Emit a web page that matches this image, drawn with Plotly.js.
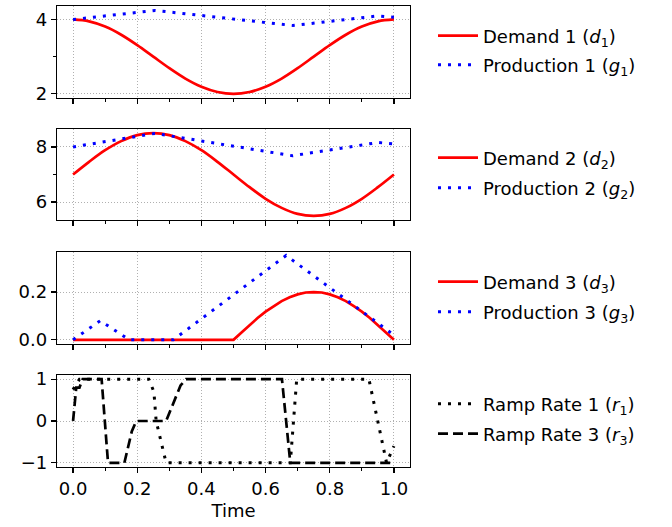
<!DOCTYPE html>
<html>
<head>
<meta charset="utf-8">
<script src="https://cdn.plot.ly/plotly-3.0.1.min.js"></script>
<style>html,body{margin:0;padding:0;background:#fff;}#chart{width:672px;height:527px;}</style>
</head>
<body>
<div id="chart"></div>
<script>
// ---- data ----
const tDemand = [0,0.05,0.1,0.15,0.2,0.25,0.3,0.35,0.4,0.45,0.5,0.55,0.6,0.65,0.7,0.75,0.8,0.85,0.9,0.95,1.0];
const demand1 = [4.0,3.95,3.81,3.59,3.31,3.0,2.69,2.41,2.19,2.05,2.0,2.05,2.19,2.41,2.69,3.0,3.31,3.59,3.81,3.95,4.0];
const demand2 = [7.0,7.46,7.88,8.21,8.43,8.5,8.43,8.21,7.88,7.46,7.0,6.54,6.12,5.79,5.57,5.5,5.57,5.79,6.12,6.54,7.0];

const tDemand3 = [0,0.5,0.525,0.55,0.575,0.6,0.625,0.65,0.675,0.7,0.725,0.75,0.775,0.8,0.825,0.85,0.875,0.9,0.925,0.95,0.975,1.0];
const demand3 = [0,0,0.031,0.062,0.091,0.118,0.141,0.162,0.178,0.190,0.198,0.2,0.198,0.190,0.178,0.162,0.141,0.118,0.091,0.062,0.031,0];

const tProd1 = [0,0.255,0.685,0.95,1.0];
const prod1 = [4.0,4.243,3.838,4.095,4.06];
const tProd2 = [0,0.255,0.684,0.95,1.0];
const prod2 = [8.0,8.49,7.68,8.16,8.11];
const tProd3 = [0,0.085,0.175,0.3125,0.664,1.0];
const prod3 = [0,0.08,0,0,0.353,0.02];

const tRamp1 = [0,0.02,0.236,0.252,0.259,0.29,0.677,0.697,0.922,0.977,1.0];
const ramp1 = [0.75,1,1,0.7,0,-1,-1,1,1,-1,-0.6];
const tRamp3 = [0,0.01,0.02,0.03,0.089,0.109,0.16,0.183,0.197,0.29,0.335,0.352,0.651,0.677,1.0];
const ramp3 = [0,0.8,0.8,1,1,-1,-1,-0.25,0,0,0.85,1,1,-1,-1];

const xTicks = [0,0.2,0.4,0.6,0.8,1.0];
const names = [
  'Demand 1 (<i>d</i><sub>1</sub>)','Production 1 (<i>g</i><sub>1</sub>)',
  'Demand 2 (<i>d</i><sub>2</sub>)','Production 2 (<i>g</i><sub>2</sub>)',
  'Demand 3 (<i>d</i><sub>3</sub>)','Production 3 (<i>g</i><sub>3</sub>)',
  'Ramp Rate 1 (<i>r</i><sub>1</sub>)','Ramp Rate 3 (<i>r</i><sub>3</sub>)'
];

// ---- styles ----
const redLine = {color:'#ff0000', width:2.7};
const blueDot = {color:'#0000ff', width:3, dash:'3px,7px'};
const blackDot = {color:'#000000', width:3, dash:'3px,7px'};
const blackDash = {color:'#000000', width:2.7, dash:'10px,5px'};

const traces = [
  {x:tDemand, y:demand1, xaxis:'x', yaxis:'y', line:Object.assign({shape:'spline'},redLine), legend:'legend'},
  {x:tProd1, y:prod1, xaxis:'x', yaxis:'y', line:blueDot, legend:'legend2'},
  {x:tDemand, y:demand2, xaxis:'x2', yaxis:'y2', line:Object.assign({shape:'spline'},redLine), legend:'legend3'},
  {x:tProd2, y:prod2, xaxis:'x2', yaxis:'y2', line:blueDot, legend:'legend4'},
  {x:tDemand3, y:demand3, xaxis:'x3', yaxis:'y3', line:redLine, legend:'legend5'},
  {x:tProd3, y:prod3, xaxis:'x3', yaxis:'y3', line:blueDot, legend:'legend6'},
  {x:tRamp1, y:ramp1, xaxis:'x4', yaxis:'y4', line:blackDot, legend:'legend7'},
  {x:tRamp3, y:ramp3, xaxis:'x4', yaxis:'y4', line:blackDash, legend:'legend8'}
].map((t,i)=>Object.assign({type:'scatter', mode:'lines', name:names[i], hoverinfo:'skip'}, t));

const H = 461, bottomPx = 467;
function py(p){ return (bottomPx - p)/H; }

const gridStyle = {showgrid:true, gridcolor:'#b0b0b0', griddash:'1px,2px', gridwidth:1};
const frame = {showline:true, linecolor:'#000', linewidth:1.2, mirror:true, zeroline:false,
  ticks:'outside', ticklen:5, tickwidth:1.2, tickcolor:'#000'};

function xax(anchor, labels){
  return Object.assign({}, frame, gridStyle, {
    anchor:anchor, domain:[0,1], range:[-0.05,1.05], tickmode:'array', tickvals:xTicks,
    tickformat:'.1f', showticklabels:labels,
    minor:{ticks:'outside', ticklen:3, tickwidth:1, tickcolor:'#000', dtick:0.1, tick0:0, showgrid:false}
  });
}
function yax(anchor, dom, range, dtick, fmt, minor){
  const a = Object.assign({}, frame, gridStyle, {
    anchor:anchor, domain:dom, range:range, dtick:dtick, tick0:0, tickformat:fmt
  });
  if (minor) a.minor = {ticks:'outside', ticklen:3, tickwidth:1, tickcolor:'#000', dtick:minor, tick0:0, showgrid:false};
  return a;
}

const legX = (433-57)/353;
const legendYs = [36,65,158,188,282,312,404,434];
const layout = {
  width:672, height:527,
  margin:{l:57, r:262, t:6, b:60},
  paper_bgcolor:'#fff', plot_bgcolor:'#fff',
  font:{family:'DejaVu Sans', size:18, color:'#000'},
  xaxis: xax('y', false),
  xaxis2: xax('y2', false),
  xaxis3: xax('y3', false),
  xaxis4: Object.assign(xax('y4', true), {title:{text:'Time', standoff:6, font:{size:18}}}),
  yaxis: yax('x', [py(98),1], [1.8875,4.3625], 2, '', 1),
  yaxis2: yax('x2', [py(220),py(129)], [5.35,8.65], 2, '', 1),
  yaxis3: yax('x3', [py(344),py(252)], [-0.0175,0.3675], 0.2, '.1f', null),
  yaxis4: yax('x4', [0,py(375)], [-1.1,1.1], 1, '', null),
  showlegend:true
};
legendYs.forEach((p,i)=>{
  const key = i===0 ? 'legend' : 'legend'+(i+1);
  layout[key] = {x:legX, y:py(p), xanchor:'left', yanchor:'middle', bgcolor:'rgba(0,0,0,0)',
    borderwidth:0, itemwidth:40, font:{family:'DejaVu Sans', size:18, color:'#000'},
    itemclick:false, itemdoubleclick:false};
});

Plotly.newPlot('chart', traces, layout, {displayModeBar:false, staticPlot:true});
</script>
</body>
</html>
